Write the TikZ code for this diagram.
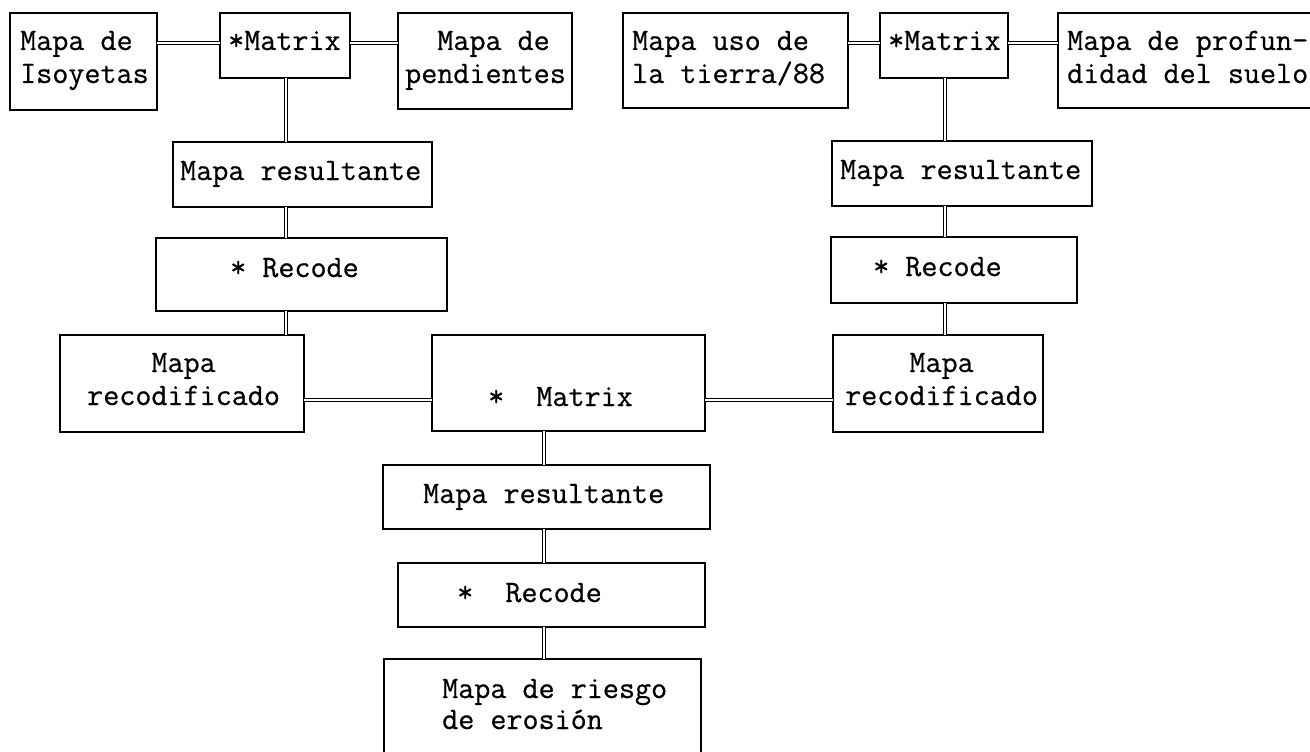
\documentclass[tikz,border=0pt]{standalone}
\usepackage{fontspec}
\setmonofont{Latin Modern Mono}[FakeBold=0.6]
\begin{document}
\begin{tikzpicture}[x=1pt,y=-1pt,
  mbox/.style={draw, line width=1.5pt, rectangle, inner sep=0pt, outer sep=0pt},
  txt/.style={anchor=base west, inner sep=0pt, align=left, font=\fontsize{31.2}{33}\selectfont\ttfamily},
  dbl/.style={draw, line width=1.2pt, double=white, double distance=2.4pt}]
\useasboundingbox (0,0) rectangle (1310,752);
\clip (0,0) rectangle (1310,752);
\newcommand\mkbox[5]{\node[mbox, minimum width={#4-#2}, minimum height={#5-#3}] (#1) at ({(#2+#4)/2},{(#3+#5)/2}) {};}
% boxes
\mkbox{iso}{10}{13}{157}{110}
\mkbox{mA}{220}{13}{350}{78}
\mkbox{pend}{398}{13}{572}{109}
\mkbox{uso}{623}{13}{848}{108}
\mkbox{mB}{880}{13}{1008}{78}
\mkbox{prof}{1058}{13}{1340}{108}
\mkbox{resL}{173}{142}{432}{207}
\mkbox{recL}{156}{238}{447}{311}
\mkbox{rcdL}{60}{335}{304}{432}
\mkbox{mid}{432}{335}{705}{431}
\mkbox{rcdR}{833}{335}{1043}{432}
\mkbox{resR}{832}{141}{1092}{206}
\mkbox{recR}{831}{237}{1077}{303}
\mkbox{resB}{383}{465}{710}{529}
\mkbox{recB}{398}{563}{705}{627}
\mkbox{ries}{384}{659}{701}{800}
% texts (multi-line nodes: base = last line)
\node[txt] (t-iso) at (20,83) {Mapa de\\Isoyetas};
\node[txt] (t-mA) at (228,50) {*Matrix};
\node[txt] (t-pend) at (405,83) {~~Mapa de\\pendientes};
\node[txt] (t-uso) at (632,83) {Mapa uso de\\la tierra/88};
\node[txt] (t-mB) at (888,50) {*Matrix};
\node[txt] (t-prof) at (1067,83) {Mapa de profun-\\didad del suelo};
\node[txt] (t-resL) at (180,180) {Mapa resultante};
\node[txt] (t-recL) at (230,277) {* Recode};
\node[txt] (t-rcdL) at (87,405) {~~~~Mapa\\recodificado};
\node[txt] (t-mid) at (488,406) {*~~Matrix};
\node[txt] (t-rcdR) at (845,405) {~~~~Mapa\\recodificado};
\node[txt] (t-resR) at (840,179) {Mapa resultante};
\node[txt] (t-recR) at (873,276) {* Recode};
\node[txt] (t-resB) at (423,503) {Mapa resultante};
\node[txt] (t-recB) at (457,602) {*~~Recode};
\node[txt, font=\fontsize{31.2}{31}\selectfont\ttfamily] (t-ries) at (442,729) {Mapa de riesgo\\de erosi\'on};
% connector guides
\coordinate (rowT) at (0,43);
\coordinate (rowM) at (0,400);
\coordinate (colL) at (286,0);
\coordinate (colR) at (945,0);
\coordinate (colM) at (544,0);
% horizontal connectors
\draw[dbl] (iso.east |- rowT) -- (mA.west |- rowT);
\draw[dbl] (mA.east |- rowT) -- (pend.west |- rowT);
\draw[dbl] (uso.east |- rowT) -- (mB.west |- rowT);
\draw[dbl] (mB.east |- rowT) -- (prof.west |- rowT);
\draw[dbl] (rcdL.east |- rowM) -- (mid.west |- rowM);
\draw[dbl] (mid.east |- rowM) -- (rcdR.west |- rowM);
% vertical connectors
\draw[dbl] (mA.south -| colL) -- (resL.north -| colL);
\draw[dbl] (resL.south -| colL) -- (recL.north -| colL);
\draw[dbl] (recL.south -| colL) -- (rcdL.north -| colL);
\draw[dbl] (mB.south -| colR) -- (resR.north -| colR);
\draw[dbl] (resR.south -| colR) -- (recR.north -| colR);
\draw[dbl] (recR.south -| colR) -- (rcdR.north -| colR);
\draw[dbl] (mid.south -| colM) -- (resB.north -| colM);
\draw[dbl] (resB.south -| colM) -- (recB.north -| colM);
\draw[dbl] (recB.south -| colM) -- (ries.north -| colM);
\end{tikzpicture}
\end{document}
